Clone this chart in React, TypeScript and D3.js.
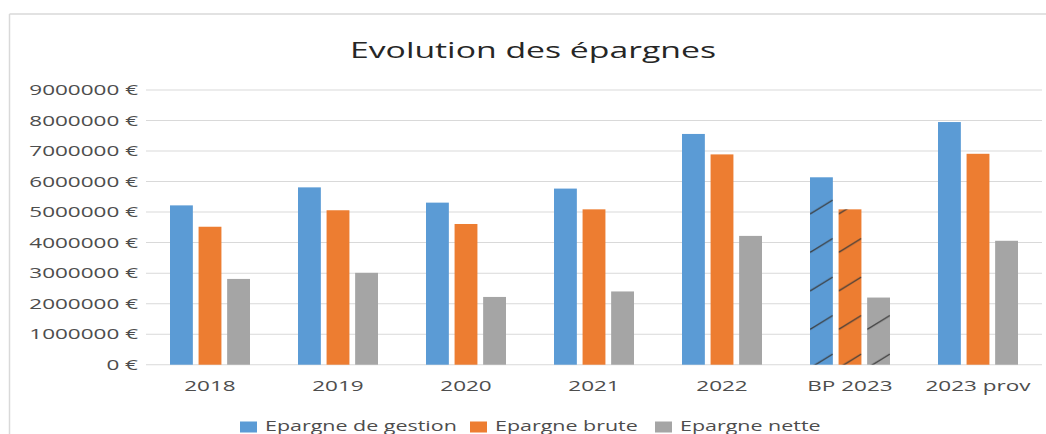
import * as d3 from "d3";
import { useEffect, useRef } from "react";

// chart data
const categories = ["2018", "2019", "2020", "2021", "2022", "BP 2023", "2023 prov"];
const seriesNames = ["Epargne de gestion", "Epargne brute", "Epargne nette"];
const epargneGestion = [5220000, 5810000, 5310000, 5770000, 7560000, 6140000, 7950000];
const epargneBrute = [4520000, 5060000, 4610000, 5090000, 6890000, 5090000, 6910000];
const epargneNette = [2810000, 3010000, 2220000, 2400000, 4220000, 2200000, 4060000];
const yTicks = [0, 1000000, 2000000, 3000000, 4000000, 5000000, 6000000, 7000000, 8000000, 9000000];
const hatchedCategories = ["BP 2023"];
const colors = ["#5b9bd5", "#ed7d31", "#a5a5a5"];

// dimensions (the picture is stretched horizontally, so we draw in a narrower
// viewBox and let the svg stretch it)
const width = 1046;
const height = 434;
const SX = 1.5;
const innerW = width / SX;
const plotLeft = 146;
const plotRight = 1042;
const plotBottom = 364.7;
const plotTop = 90;
const font = "'Open Sans', 'DejaVu Sans', sans-serif";

const App = () => {
  const containerRef = useRef<HTMLDivElement>(null);

  useEffect(() => {
    const container = containerRef.current;
    if (!container) return;
    container.innerHTML = "";

    const values = [epargneGestion, epargneBrute, epargneNette];

    const x0 = d3
      .scaleBand()
      .domain(categories)
      .range([plotLeft / SX, plotRight / SX])
      .paddingInner(0.375)
      .paddingOuter(0.1875);

    const x1 = d3
      .scaleBand()
      .domain(seriesNames)
      .range([0, x0.bandwidth()])
      .paddingInner(0.2);

    const y = d3.scaleLinear().domain([0, 9000000]).range([plotBottom, plotTop]);

    const svg = d3
      .create("svg")
      .attr("width", width)
      .attr("height", height)
      .attr("viewBox", `0 0 ${innerW} ${height}`)
      .attr("preserveAspectRatio", "none")
      .style("position", "absolute")
      .style("left", "0px")
      .style("top", "0px")
      .style("font-family", font);

    svg.append("rect").attr("width", innerW).attr("height", height).attr("fill", "#fff");

    // hatch pattern for the budget column
    const bw = x1.bandwidth();
    const pattern = svg
      .append("defs")
      .append("pattern")
      .attr("id", "hatch")
      .attr("patternUnits", "userSpaceOnUse")
      .attr("x", x0(hatchedCategories[0]) ?? 0)
      .attr("y", plotBottom)
      .attr("width", x1.step())
      .attr("height", 38.5);
    [-38.5, 0].forEach((off) => {
      pattern
        .append("line")
        .attr("x1", 0)
        .attr("y1", 41.8 + off)
        .attr("x2", bw)
        .attr("y2", 27.8 + off)
        .attr("stroke", "#383838")
        .attr("stroke-width", 1.1);
    });

    // chart frame
    svg.append("line")
      .attr("x1", 9.5 / SX).attr("x2", 9.5 / SX)
      .attr("y1", 14).attr("y2", height)
      .attr("stroke", "#d9d9d9").attr("stroke-width", 1);
    svg.append("line")
      .attr("x1", 9.5 / SX).attr("x2", innerW)
      .attr("y1", 14).attr("y2", 14)
      .attr("stroke", "#d9d9d9").attr("stroke-width", 1.5);

    // title
    svg.append("text")
      .attr("x", 533 / SX)
      .attr("y", 58.3)
      .attr("text-anchor", "middle")
      .attr("font-size", 22.5)
      .attr("fill", "#262626")
      .text("Evolution des épargnes");

    // gridlines + y labels
    const grid = svg.append("g");
    yTicks.forEach((t) => {
      grid.append("line")
        .attr("x1", plotLeft / SX).attr("x2", plotRight / SX)
        .attr("y1", y(t)).attr("y2", y(t))
        .attr("stroke", "#d9d9d9").attr("stroke-width", 1);
      grid.append("text")
        .attr("x", 138 / SX)
        .attr("y", y(t))
        .attr("dy", "0.35em")
        .attr("text-anchor", "end")
        .attr("font-size", 15)
        .attr("fill", "#4d4d4d")
        .text(`${d3.format("d")(t)} €`);
    });

    // bars
    const groups = svg
      .append("g")
      .selectAll("g")
      .data(categories)
      .join("g")
      .attr("transform", (c) => `translate(${x0(c)},0)`);

    groups.each(function (c, i) {
      const g = d3.select(this);
      seriesNames.forEach((s, k) => {
        const v = values[k][i];
        g.append("rect")
          .attr("x", x1(s) ?? 0)
          .attr("y", y(v))
          .attr("width", bw)
          .attr("height", y(0) - y(v))
          .attr("fill", colors[k]);
      });
    });

    // hatch overlay (drawn in absolute coords so the pattern lines up)
    categories.forEach((c, i) => {
      if (!hatchedCategories.includes(c)) return;
      seriesNames.forEach((s, k) => {
        const v = values[k][i];
        svg.append("rect")
          .attr("x", (x0(c) ?? 0) + (x1(s) ?? 0))
          .attr("y", y(v))
          .attr("width", bw)
          .attr("height", y(0) - y(v))
          .attr("fill", "url(#hatch)");
      });
    });

    // x labels
    svg.append("g")
      .selectAll("text")
      .data(categories)
      .join("text")
      .attr("x", (c) => (x0(c) ?? 0) + x0.bandwidth() / 2)
      .attr("y", 391)
      .attr("text-anchor", "middle")
      .attr("font-size", 15)
      .attr("fill", "#4d4d4d")
      .text((c) => c);

    // legend
    const legendX = [240, 470, 655];
    const legend = svg.append("g");
    seriesNames.forEach((s, k) => {
      legend.append("rect")
        .attr("x", legendX[k] / SX)
        .attr("y", 421.5)
        .attr("width", 17 / SX)
        .attr("height", 11)
        .attr("fill", colors[k]);
      legend.append("text")
        .attr("x", (legendX[k] + 25) / SX)
        .attr("y", 431.5)
        .attr("font-size", 14.3)
        .attr("fill", "#4d4d4d")
        .text(s);
    });

    container.append(svg.node() as SVGSVGElement);
  }, []);

  return <div ref={containerRef} style={{ width, height }}></div>;
};

export default App;
